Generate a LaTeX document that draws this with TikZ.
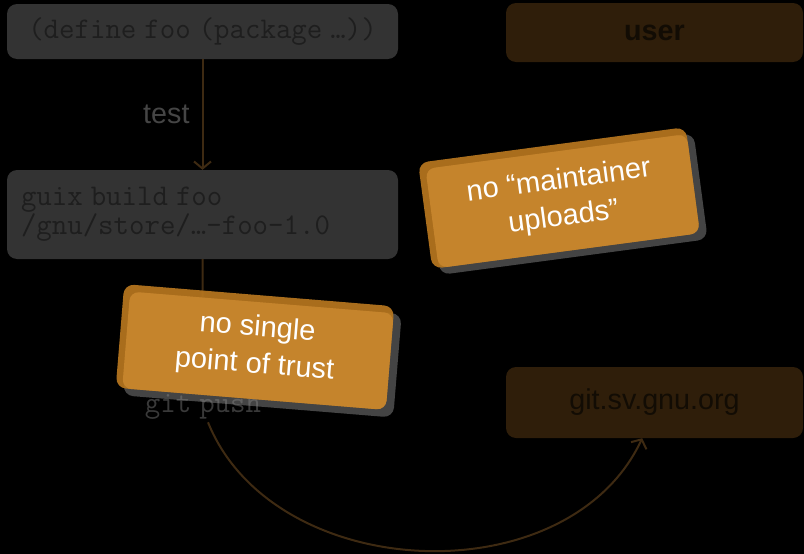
\documentclass[tikz,border=0pt]{standalone}
\usepackage{fontspec}
\setmainfont{Liberation Sans}
\usetikzlibrary{arrows.meta}
\pgfdeclarelayer{shadows}
\pgfdeclarelayer{mid}
\pgfdeclarelayer{notes}
\pgfsetlayers{main,shadows,mid,notes}
\definecolor{boxgray}{HTML}{333333}
\definecolor{ttdark}{HTML}{1E1E1E}
\definecolor{boxbrown}{HTML}{2F1E0A}
\definecolor{browntext}{HTML}{120C04}
\definecolor{brownline}{HTML}{3E2A12}
\definecolor{labelgray}{HTML}{454545}
\definecolor{pushgray}{HTML}{8A8A8A}
\definecolor{noteorange}{HTML}{C8862E}
\definecolor{noteedge}{HTML}{B8771F}
\definecolor{noteshadow}{HTML}{444444}
\newcommand\ttf{\ttfamily\fontsize{30}{36}\selectfont\fontdimen2\font=8pt\spaceskip=8pt\xspaceskip=8pt\relax}
\newcommand\sff{\fontsize{28.7}{34}\selectfont}
\begin{document}
\begin{tikzpicture}[x=1pt,y=-1pt,
  graybox/.style={rectangle, rounded corners=10pt, fill=boxgray, text=ttdark, inner sep=0pt},
  brownbox/.style={rectangle, rounded corners=10pt, fill=boxbrown, text=browntext, minimum width=297pt, inner sep=0pt},
  conn/.style={draw=brownline, line width=2pt, -{Straight Barb[length=7pt,width=17pt]}},
  notetext/.style={text=white, align=center, font=\fontsize{29}{37}\selectfont, inner sep=0pt},
  noteshade/.style={fill=noteshadow, rounded corners=10pt},
  noteouter/.style={fill=noteedge, rounded corners=10pt, opacity=0.92},
  noteinner/.style={fill=noteorange, rounded corners=9pt, opacity=0.92}]
\fill[black] (0,0) rectangle (804,554);
\useasboundingbox (0,0) rectangle (804,554);

\node[graybox, minimum width=391pt, minimum height=55pt] (define) at (202.5,31.5) {\ttf(define foo (package …))};
\node[graybox, minimum width=391pt, minimum height=89pt, text width=363pt, inner xsep=14pt, align=left] (build) at (202.5,214.5) {\ttf guix build foo\\/gnu/store/…-foo-1.0};
\begin{pgfonlayer}{mid}
\node[text=pushgray, text opacity=0.42, inner sep=3pt] (gitpush) at (203,406.5) {\ttf git push};
\end{pgfonlayer}

\node[brownbox, minimum height=59pt, font=\sff\bfseries] (user) at (654.5,32.5) {user};
\node[brownbox, minimum height=71pt, font=\sff] (git) at (654.5,402.5) {git.sv.gnu.org};

\draw[conn] (define) -- node[left=12pt, inner sep=0pt, text=labelgray, font=\sff] (testlbl) {test} (build);
\draw[conn] (build) -- (gitpush);
\draw[conn] ([xshift=5pt]gitpush.south) to[out=-68, in=-115, looseness=1.03] (git.-109);

\begin{scope}[shift={(559,198)}, rotate=7.6]
  \begin{pgfonlayer}{shadows}
  \fill[noteshade] (-128,-46.5) rectangle (142,60.5);
  \end{pgfonlayer}
  \begin{pgfonlayer}{notes}
  \fill[noteouter] (-135,-53.5) rectangle (135,53.5);
  \fill[noteinner] (-128.5,-46.5) rectangle (135,53.5);
  \node[transform shape, notetext] (note1) at (2,2) {no “maintainer\\uploads”};
  \end{pgfonlayer}
\end{scope}

\begin{scope}[shift={(255,347)}, rotate=-4.7]
  \begin{pgfonlayer}{shadows}
  \fill[noteshade] (-127.5,-45) rectangle (143.5,59);
  \end{pgfonlayer}
  \begin{pgfonlayer}{notes}
  \fill[noteouter] (-135.5,-52) rectangle (135.5,52);
  \fill[noteinner] (-129,-45) rectangle (135.5,52);
  \node[transform shape, notetext] (note2) at (1,0) {no single\\point of trust};
  \end{pgfonlayer}
\end{scope}
\end{tikzpicture}
\end{document}
